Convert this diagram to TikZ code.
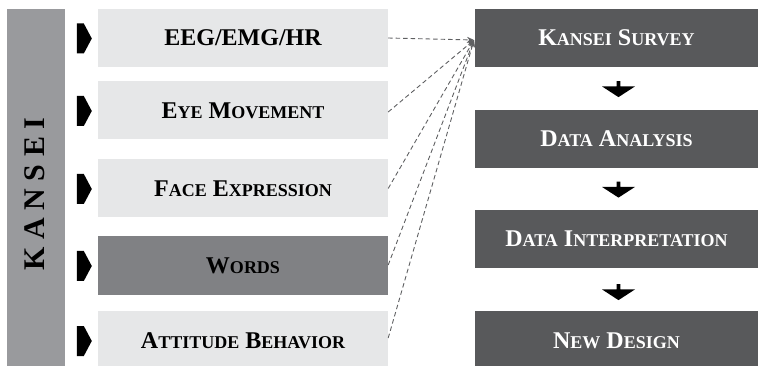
\documentclass[tikz,border=0pt]{standalone}
\usepackage{fontspec}
\setmainfont{Liberation Serif}
\usetikzlibrary{positioning, arrows.meta, shapes.arrows, calc}

\definecolor{LightBox}{RGB}{230,231,232}
\definecolor{MidBox}{RGB}{128,129,132}
\definecolor{BarGray}{RGB}{153,154,157}
\definecolor{DarkBox}{RGB}{88,89,91}
\definecolor{DashGray}{RGB}{95,96,98}

% first letter full size, the rest as small capitals
\newcommand{\capsc}[2]{#1{\fontsize{18}{18}\selectfont #2}}

\tikzset{
  measure/.style={fill=LightBox, minimum width=290pt, minimum height=58pt, inner sep=0pt,
    font=\fontsize{24}{24}\selectfont\bfseries, text=black},
  process/.style={fill=DarkBox, minimum width=283pt, minimum height=58pt, inner sep=0pt,
    font=\fontsize{24}{24}\selectfont\bfseries, text=white},
  pointer/.style={single arrow, single arrow head extend=0pt, single arrow tip angle=124,
    fill=black, inner sep=0pt, minimum width=30pt, minimum height=15pt},
  downstep/.style={single arrow, single arrow head extend=1.5pt, single arrow tip angle=114,
    shape border rotate=270, fill=black, inner sep=0pt, minimum width=33pt, minimum height=16pt},
  link/.style={DashGray, line width=0.9pt, dash pattern=on 4.5pt off 3pt,
    -{Stealth[length=7pt,width=6pt]}}
}

\begin{document}
\begin{tikzpicture}[x=1pt, y=-1pt]
  \useasboundingbox (0,0) rectangle (758,366);

  % vertical bar
  \fill[BarGray] (7,9) rectangle (65,370);
  \node[rotate=90, inner sep=0pt, font=\fontsize{30}{30}\selectfont\bfseries] (kansei) at (35,194)
    {K\kern7.5pt A\kern7.5pt N\kern7.5pt S\kern7.5pt E\kern7.5pt I};

  % measurement boxes
  \node[measure] (eeg) at (243,38) {EEG/EMG/HR};
  \node[measure] (eye) at (243,110.5) {\capsc{E}{YE} \capsc{M}{OVEMENT}};
  \node[measure] (face) at (243,188.5) {\capsc{F}{ACE} \capsc{E}{XPRESSION}};
  \node[measure, fill=MidBox] (words) at (243,265.5) {\capsc{W}{ORDS}};
  \node[measure, minimum height=60pt] (attitude) at (243,340.5) {\capsc{A}{TTITUDE} \capsc{B}{EHAVIOR}};

  \foreach \m in {eeg, eye, face, words, attitude}
    \node[pointer] at ($(\m.west)+(-17.5,0.5)$) {};

  % process column
  \node[process] (survey) at (616.5,38) {\capsc{K}{ANSEI} \capsc{S}{URVEY}};
  \node[process] (analysis) at (616.5,139) {\capsc{D}{ATA} \capsc{A}{NALYSIS}};
  \node[process] (interp) at (616.5,239) {\capsc{D}{ATA} \capsc{I}{NTERPRETATION}};
  \node[process, minimum height=60pt] (design) at (616.5,341) {\capsc{N}{EW} \capsc{D}{ESIGN}};

  \node[downstep] (s1) at ($(survey.south)!0.5!(analysis.north)+(2,0)$) {};
  \node[downstep] (s2) at ($(analysis.south)!0.5!(interp.north)+(2,0)$) {};
  \node[downstep] (s3) at ($(interp.south)!0.5!(design.north)+(2,2)$) {};

  % dashed links into the survey
  \coordinate (hub) at (474,40);
  \draw[link] (eeg.east) -- (hub);
  \draw[link] ($(eye.east)+(0,1.5)$) -- (hub);
  \draw[link] (face.east) -- (hub);
  \draw[link] ($(words.east)+(0,-0.5)$) -- (hub);
  \draw[link] ($(attitude.east)+(0,-2.5)$) -- (hub);
\end{tikzpicture}
\end{document}
